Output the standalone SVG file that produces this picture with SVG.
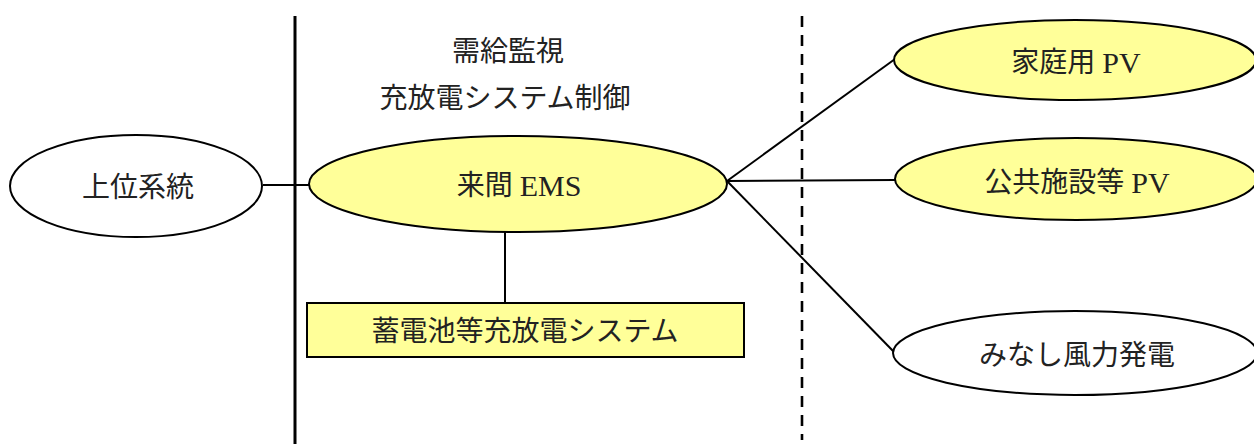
<svg xmlns="http://www.w3.org/2000/svg" width="1254" height="444" viewBox="0 0 1254 444">
<style>
.node{stroke:#000;stroke-width:2}
.y{fill:#FFFF99}
.w{fill:#fff}
.t{font-family:"Liberation Serif","Noto Sans CJK JP",serif;font-size:28px;fill:#222;text-anchor:middle;dominant-baseline:central}
.lat{font-size:30px}
.c{stroke:#000;stroke-width:2;fill:none}
</style>
<rect width="1254" height="444" fill="#fff"/>
<g id="dividers">
<line x1="295" y1="16" x2="295" y2="444" stroke="#000" stroke-width="3"/>
<line x1="802" y1="16" x2="802" y2="440" stroke="#000" stroke-width="2.6" stroke-dasharray="11 8"/>
</g>
<g id="connectors">
<line class="c" x1="263" y1="185" x2="310" y2="185"/>
<line class="c" x1="505" y1="232" x2="505" y2="303"/>
<line class="c" x1="727" y1="181" x2="895" y2="59"/>
<line class="c" x1="727" y1="181" x2="895" y2="180"/>
<line class="c" x1="727" y1="181" x2="895" y2="353"/>
</g>
<g id="labels">
<text class="t" x="508" y="51">需給監視</text>
<text class="t" x="505" y="98">充放電システム制御</text>
</g>
<g id="node-joui">
<ellipse class="node w" cx="136" cy="186" rx="126" ry="51"/>
<text class="t" x="138" y="187">上位系統</text>
</g>
<g id="node-ems">
<ellipse class="node y" cx="518" cy="184" rx="209" ry="48"/>
<text class="t" x="519" y="185">来間 <tspan class="lat">EMS</tspan></text>
</g>
<g id="node-battery">
<rect class="node y" x="307" y="303" width="437" height="54"/>
<text class="t" x="525" y="331">蓄電池等充放電システム</text>
</g>
<g id="node-home-pv">
<ellipse class="node y" cx="1075" cy="60" rx="181" ry="40"/>
<text class="t" x="1076" y="62">家庭用 <tspan class="lat">PV</tspan></text>
</g>
<g id="node-public-pv">
<ellipse class="node y" cx="1076" cy="179" rx="181" ry="41"/>
<text class="t" x="1077" y="182">公共施設等 <tspan class="lat">PV</tspan></text>
</g>
<g id="node-wind">
<ellipse class="node w" cx="1075" cy="353" rx="182" ry="42"/>
<text class="t" x="1077" y="355">みなし風力発電</text>
</g>
</svg>
